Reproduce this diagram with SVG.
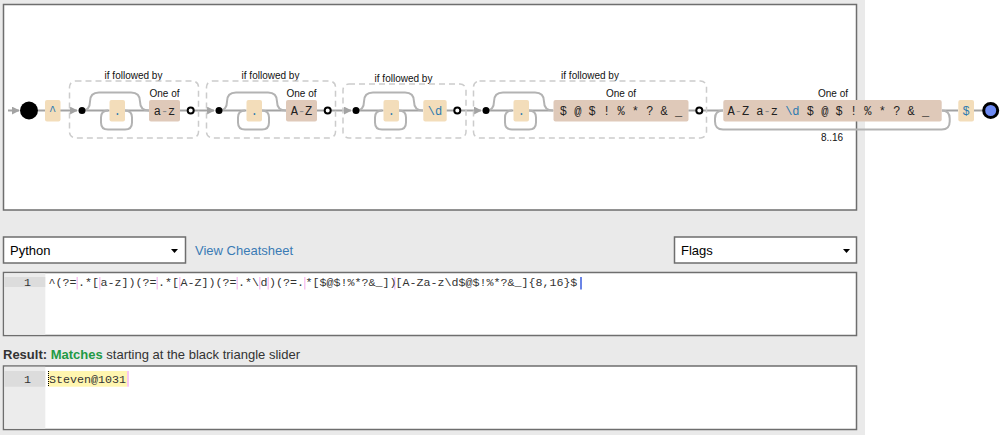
<svg xmlns="http://www.w3.org/2000/svg" width="1002" height="435" viewBox="0 0 1002 435">
<defs>
<style>
.bg{fill:#eaeaea}
.panel{fill:#fff;stroke:#6e6e6e;stroke-width:1.5}
.ln{fill:none;stroke:#a3a3a3;stroke-width:2}
.loop{fill:none;stroke:#b3b3b3;stroke-width:2}
.dash{fill:none;stroke:#cccccc;stroke-width:1.5;stroke-dasharray:6,4}
.lit{fill:#f3ddba}
.cls{fill:#dfc9b9}
.lbl{font-family:"Liberation Sans",Arial,sans-serif;font-size:10px;fill:#111;text-anchor:middle}
.mono{font-family:"Liberation Mono","Courier New",monospace;font-size:12px}
.blue{fill:#2d7ab0}
.dark{fill:#222}
.hy{fill:#8a8a8a}
.ui{font-family:"Liberation Sans",Arial,sans-serif;font-size:13px}
.code{font-family:"Liberation Mono","Courier New",monospace;font-size:11.67px;fill:#333}
.gut{fill:#ececec}
.gutl{fill:#dcdcdc}
.pink{fill:#f8c6f2}
.dot{fill:#000}
.hol{fill:#fff;stroke:#000;stroke-width:2}
</style>
<marker id="arr" viewBox="0 0 10 10" refX="9" refY="5" markerWidth="4" markerHeight="4" orient="auto">
<path d="M0,0 L10,5 L0,10 z" fill="#a3a3a3"/>
</marker>
</defs>
<rect x="0" y="0" width="1002" height="435" fill="#fff"/>
<rect class="bg" x="0" y="0" width="865" height="435"/>
<rect class="panel" x="3.5" y="4.5" width="853" height="205.5"/>

<g id="connectors">
<path class="ln" d="M8,110.5 H19" marker-end="url(#arr)"/>
<path class="ln" d="M38,110.5 H45"/>
<path class="ln" d="M60,110.5 H77" marker-end="url(#arr)"/>
<path class="ln" d="M194,110.5 H214" marker-end="url(#arr)"/>
<path class="ln" d="M331,110.5 H351" marker-end="url(#arr)"/>
<path class="ln" d="M461,110.5 H481" marker-end="url(#arr)"/>
<path class="ln" d="M703,110.5 H723"/>
<path class="ln" d="M942,110.5 H958"/>
<path class="ln" d="M974,110.5 H983"/>
</g>

<g id="start"><circle class="dot" cx="29" cy="110.5" r="9"/></g>
<g id="caret"><rect class="lit" x="45" y="100" width="15.5" height="21.5" rx="2"/><text class="mono blue" x="52.7" y="115" text-anchor="middle">^</text></g>

<g id="lookahead1">
<text class="lbl" x="133.5" y="79">if followed by</text>
<rect class="dash" x="69.5" y="81" width="129" height="57" rx="6"/>
<path class="ln" d="M82,110.5 H109.5 M125,110.5 H149"/>
<path class="loop" d="M82,110.5 q8,0 8,-9 q0,-9 9,-9 H131 q9,0 9,9 q0,9 9,9"/>
<path class="loop" d="M125,110.5 q7,0 7,7 v5 q0,7 -7,7 H108 q-7,0 -7,-7 v-5 q0,-7 7,-7"/>
<circle class="dot" cx="82" cy="110.5" r="3.5"/>
<rect class="lit" x="109.5" y="100" width="15.5" height="21.5" rx="2"/><text class="mono blue" x="117.3" y="115" text-anchor="middle">.</text>
<text class="lbl" x="164.5" y="97">One of</text>
<rect class="cls" x="149" y="100" width="31" height="21.5" rx="2"/><text class="mono dark" x="164.5" y="115" text-anchor="middle">a<tspan class="hy">-</tspan>z</text>
<path class="ln" d="M180,110.5 H188"/>
<circle class="hol" cx="190.7" cy="110.5" r="3"/>
</g>

<g id="lookahead2" transform="translate(137,0)">
<text class="lbl" x="133.5" y="79">if followed by</text>
<rect class="dash" x="69.5" y="81" width="129" height="57" rx="6"/>
<path class="ln" d="M82,110.5 H109.5 M125,110.5 H149"/>
<path class="loop" d="M82,110.5 q8,0 8,-9 q0,-9 9,-9 H131 q9,0 9,9 q0,9 9,9"/>
<path class="loop" d="M125,110.5 q7,0 7,7 v5 q0,7 -7,7 H108 q-7,0 -7,-7 v-5 q0,-7 7,-7"/>
<circle class="dot" cx="82" cy="110.5" r="3.5"/>
<rect class="lit" x="109.5" y="100" width="15.5" height="21.5" rx="2"/><text class="mono blue" x="117.3" y="115" text-anchor="middle">.</text>
<text class="lbl" x="164.5" y="97">One of</text>
<rect class="cls" x="149" y="100" width="31" height="21.5" rx="2"/><text class="mono dark" x="164.5" y="115" text-anchor="middle">A<tspan class="hy">-</tspan>Z</text>
<path class="ln" d="M180,110.5 H188"/>
<circle class="hol" cx="190.7" cy="110.5" r="3"/>
</g>

<g id="lookahead3" transform="translate(274,0)">
<text class="lbl" x="129.5" y="82">if followed by</text>
<rect class="dash" x="69" y="84" width="123" height="54" rx="6"/>
<path class="ln" d="M82,110.5 H109.5 M125,110.5 H149"/>
<path class="loop" d="M82,110.5 q8,0 8,-9 q0,-9 9,-9 H131 q9,0 9,9 q0,9 9,9"/>
<path class="loop" d="M125,110.5 q7,0 7,7 v5 q0,7 -7,7 H108 q-7,0 -7,-7 v-5 q0,-7 7,-7"/>
<circle class="dot" cx="82" cy="110.5" r="3.5"/>
<rect class="lit" x="109.5" y="100" width="15.5" height="21.5" rx="2"/><text class="mono blue" x="117.3" y="115" text-anchor="middle">.</text>
<rect class="lit" x="149.3" y="100" width="23.4" height="21.5" rx="2"/><text class="mono blue" x="161" y="115" text-anchor="middle">\d</text>
<path class="ln" d="M172.7,110.5 H181"/>
<circle class="hol" cx="183.3" cy="110.5" r="3"/>
</g>

<g id="lookahead4">
<text class="lbl" x="590" y="79">if followed by</text>
<rect class="dash" x="473.5" y="81" width="233" height="57" rx="6"/>
<path class="ln" d="M486,110.5 H513.5 M529,110.5 H553.5"/>
<path class="loop" d="M486,110.5 q8,0 8,-9 q0,-9 9,-9 H535 q9,0 9,9 q0,9 9,9"/>
<path class="loop" d="M529,110.5 q7,0 7,7 v5 q0,7 -7,7 H512 q-7,0 -7,-7 v-5 q0,-7 7,-7"/>
<circle class="dot" cx="486" cy="110.5" r="3.5"/>
<rect class="lit" x="513.5" y="100" width="15.5" height="21.5" rx="2"/><text class="mono blue" x="521.3" y="115" text-anchor="middle">.</text>
<text class="lbl" x="621" y="97">One of</text>
<rect class="cls" x="553.5" y="100" width="135" height="21.5" rx="2"/><text class="mono dark" x="621" y="115" text-anchor="middle">$ @ $ ! % * ? &amp; _</text>
<path class="ln" d="M688.5,110.5 H697"/>
<circle class="hol" cx="699.3" cy="110.5" r="3"/>
</g>

<g id="charset">
<path class="loop" d="M941.7,110.5 q8,0 8,8 v3 q0,8 -8,8 H723 q-8,0 -8,-8 v-3 q0,-8 8,-8"/>
<text class="lbl" x="833" y="97">One of</text>
<rect class="cls" x="723.3" y="100" width="218.4" height="21.5" rx="2"/>
<text class="mono dark" x="727.5" y="115">A<tspan class="hy">-</tspan>Z a<tspan class="hy">-</tspan>z <tspan class="blue">\d</tspan> $ @ $ ! % * ? &amp; _</text>
<text class="lbl" x="832" y="141">8..16</text>
</g>

<g id="dollar"><rect class="lit" x="958.3" y="100" width="15.7" height="21.5" rx="2"/><text class="mono blue" x="966.2" y="115" text-anchor="middle">$</text></g>
<g id="end"><circle cx="990.7" cy="110.5" r="7" fill="#6d8af2" stroke="#000" stroke-width="3"/></g>

<g id="toolbar">
<rect class="panel" x="3.5" y="237" width="182" height="26"/>
<text class="ui" x="10" y="254.5" fill="#000">Python</text>
<path d="M171,249 h7 l-3.5,4 z" fill="#000"/>
<text class="ui" x="195" y="254.5" fill="#3a7bb5">View Cheatsheet</text>
<rect class="panel" x="674.5" y="237" width="182" height="26"/>
<text class="ui" x="681" y="254.5" fill="#000">Flags</text>
<path d="M843,249 h7 l-3.5,4 z" fill="#000"/>
</g>

<g id="editor">
<rect class="panel" x="3.5" y="272.5" width="853" height="63"/>
<rect class="gut" x="4.3" y="273.3" width="41" height="61.5"/>
<rect class="gutl" x="4.3" y="277" width="41" height="10"/>
<text class="code" x="31" y="286" text-anchor="end">1</text>
<rect class="pink" x="76.5" y="277" width="1.5" height="12.5"/>
<rect class="pink" x="99" y="277" width="1.5" height="12.5"/>
<rect class="pink" x="156.5" y="277" width="1.5" height="12.5"/>
<rect class="pink" x="179" y="277" width="1.5" height="12.5"/>
<rect class="pink" x="236.5" y="277" width="1.5" height="12.5"/>
<rect class="pink" x="259" y="277" width="1.5" height="12.5"/>
<rect class="pink" x="267.5" y="277" width="1.5" height="12.5"/>
<rect class="pink" x="304" y="277" width="1.5" height="12.5"/>
<rect class="pink" x="394" y="277" width="1.5" height="12.5"/>
<rect x="580" y="277" width="2" height="12.5" fill="#6a84e6"/>
<text class="code" y="286"><tspan x="48.5">^(?=</tspan><tspan x="78">.*[</tspan><tspan x="100.5">a-z])(?=</tspan><tspan x="158">.*[</tspan><tspan x="180.5">A-Z])(?=</tspan><tspan x="238">.*\</tspan><tspan x="260.5">d</tspan><tspan x="269">)(?=.</tspan><tspan x="305.5">*[$@$!%*?&amp;_])</tspan><tspan x="395.5">[A-Za-z\d$@$!%*?&amp;_]{8,16}$</tspan></text>
</g>

<g id="result">
<text class="ui" x="3" y="359" fill="#333"><tspan font-weight="bold">Result: </tspan><tspan font-weight="bold" fill="#1f9a45">Matches</tspan> starting at the black triangle slider</text>
<rect class="panel" x="3.5" y="366" width="853" height="63.5"/>
<rect class="gut" x="4.3" y="366.8" width="41" height="62"/>
<rect class="gutl" x="4.3" y="371" width="41" height="15.7"/>
<text class="code" x="31" y="383" text-anchor="end">1</text>
<rect x="48" y="371" width="79" height="15.7" fill="#fff6b0"/>
<rect class="pink" x="127" y="371" width="2" height="15.7"/>
<path d="M48.5,371 V387" stroke="#000" stroke-width="1" stroke-dasharray="1,1"/>
<text class="code" x="49" y="383">Steven@1031</text>
</g>
</svg>
